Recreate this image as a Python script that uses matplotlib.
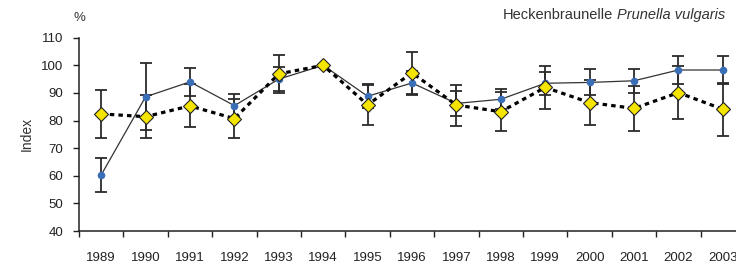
import numpy as np
import matplotlib
matplotlib.use("Agg")
import matplotlib.pyplot as plt

# Heckenbraunelle index series
years = ["1989", "1990", "1991", "1992", "1993", "1994", "1995", "1996",
         "1997", "1998", "1999", "2000", "2001", "2002", "2003"]
blue_index = [60.3, 88.6, 94.0, 85.4, 95.0, 100.0, 88.8, 93.6,
              86.2, 87.7, 93.5, 93.8, 94.4, 98.3, 98.3]
blue_err = [6.3, 12.2, 5.0, 4.1, 4.3, 0.0, 4.3, 4.5,
            4.6, 3.7, 4.2, 4.7, 4.4, 5.1, 5.1]
yellow_index = [82.4, 81.4, 85.3, 80.7, 96.9, 100.0, 85.7, 97.3,
                85.6, 83.2, 92.0, 86.5, 84.4, 90.1, 84.1]
yellow_err = [8.7, 7.8, 7.8, 7.0, 6.8, 0.0, 7.2, 7.6,
              7.4, 7.0, 7.9, 8.1, 8.1, 9.6, 9.6]
yticks = [40, 50, 60, 70, 80, 90, 100, 110]

plt.rcParams['font.family'] = ['Liberation Sans', 'DejaVu Sans']

W, H = 736, 267
fig = plt.figure(figsize=(W / 100, H / 100), dpi=100)
# axes runs past the right edge, like the original
ax = fig.add_axes([79 / W, 36 / H, 666 / W, 193.3 / H])

x = np.arange(len(years))
err_col = '#2b2b2b'

ax.errorbar(x, blue_index, yerr=blue_err, fmt='none', ecolor=err_col,
            elinewidth=1.3, capsize=4.6, capthick=1.3, zorder=2)
ax.errorbar(x, yellow_index, yerr=yellow_err, fmt='none', ecolor=err_col,
            elinewidth=1.3, capsize=4.6, capthick=1.3, zorder=2)

ax.plot(x, blue_index, '-', color='#333333', linewidth=0.9, zorder=3)
ax.plot(x, blue_index, 'o', color='#3a6fb8', markersize=5.5,
        markeredgewidth=0, zorder=4)
ax.plot(x, yellow_index, color='black', linewidth=2.3,
        dashes=(1.4, 1.3), zorder=5)
ax.plot(x, yellow_index, 'D', color='#f5e400', markeredgecolor='#222222',
        markeredgewidth=0.8, markersize=7.2, zorder=6)

ax.set_xlim(-0.5, 14.5)
ax.set_ylim(40, 110)
ax.set_yticks(yticks)
ax.set_xticks(x)
ax.set_xticklabels(years)
ax.set_xticks(np.arange(-0.5, 15, 1), minor=True)
ax.tick_params(axis='x', which='major', length=0, pad=15, labelsize=9.5,
               labelcolor='#222222')
ax.tick_params(axis='x', which='minor', length=4, width=1, color='#222222',
               direction='out')
ax.tick_params(axis='y', length=4.5, width=1, pad=7, labelsize=9.5,
               color='#222222', labelcolor='#222222')

for s in ['top', 'right']:
    ax.spines[s].set_visible(False)
for s in ['left', 'bottom']:
    ax.spines[s].set_linewidth(1.1)
    ax.spines[s].set_color('#222222')

ax.set_ylabel('Index', fontsize=10, color='#333333', labelpad=5)
fig.text(79 / W, 1 - 18 / H, '%', ha='center', va='center',
         fontsize=9.5, color='#333333')

# title: common name normal, latin name italic, right aligned
t_it = fig.text(725 / W, 1 - 15 / H, 'Prunella vulgaris', ha='right',
                va='center', fontsize=10.5, style='italic', color='#333333')
fig.canvas.draw()
bb = t_it.get_window_extent()
fig.text((bb.x0 - 4) / W, 1 - 15 / H, 'Heckenbraunelle', ha='right',
         va='center', fontsize=10.5, color='#333333')

fig.savefig('out.png', dpi=100)
